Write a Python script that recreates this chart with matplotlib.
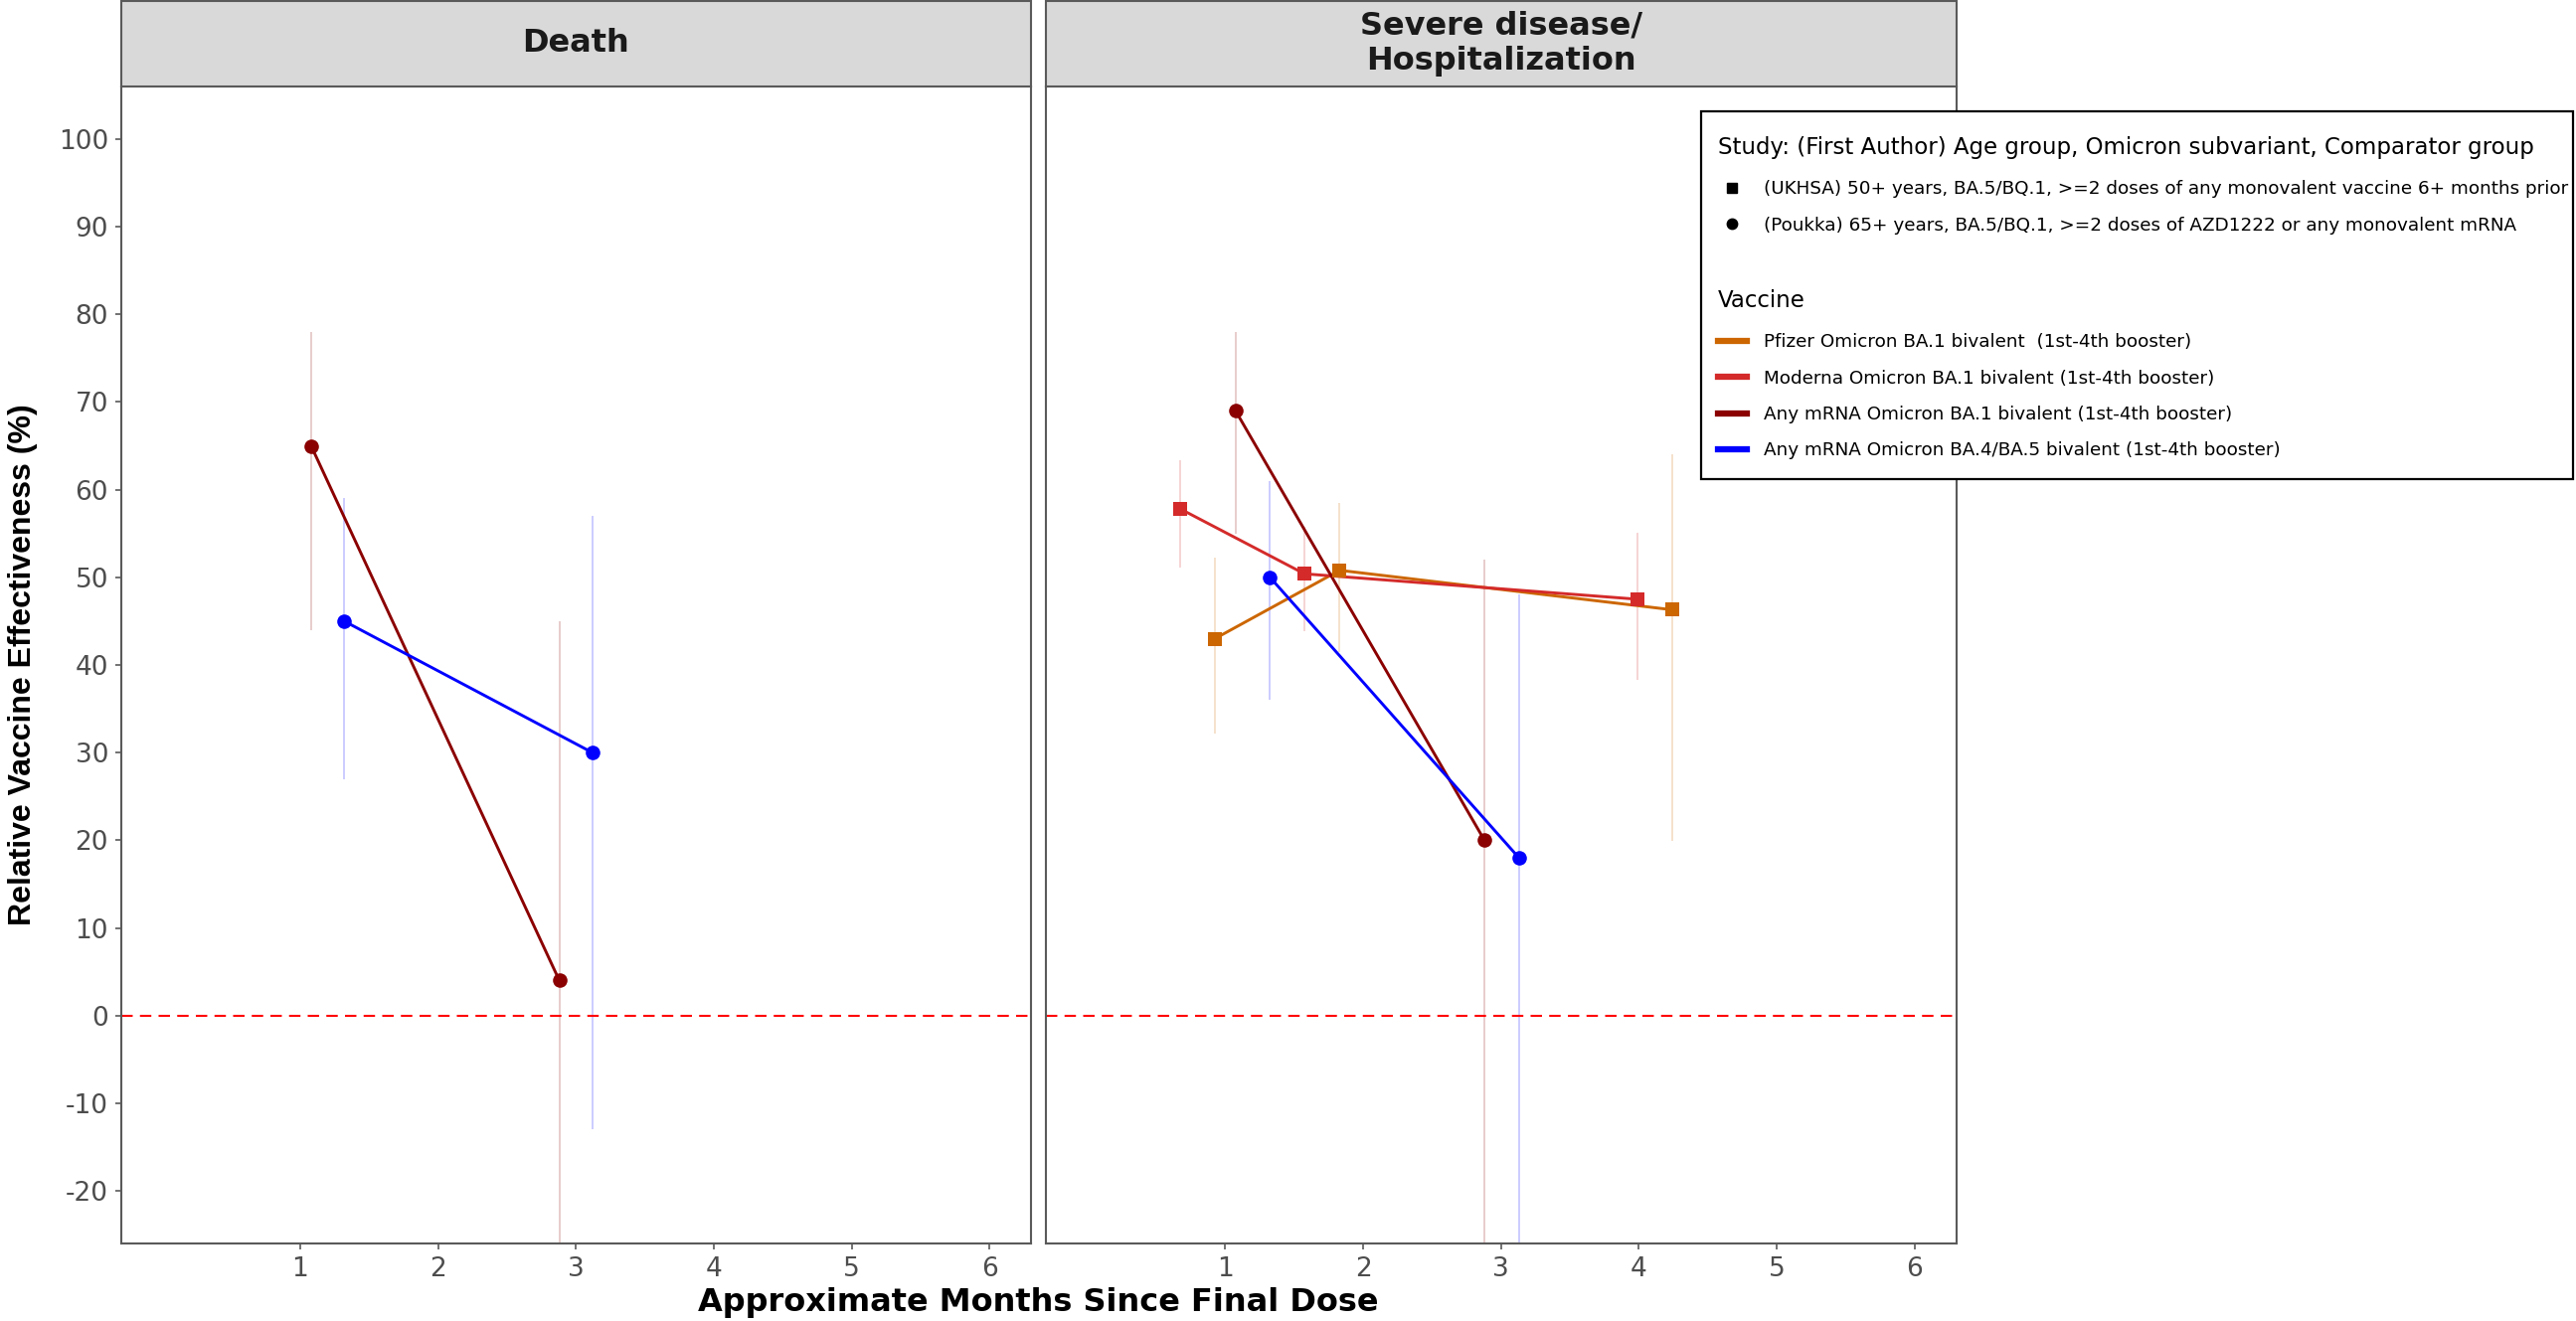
import matplotlib
matplotlib.use("Agg")
import matplotlib.pyplot as plt
from matplotlib.patches import Rectangle
from matplotlib.lines import Line2D

# ---------------- data ----------------
months_ticks = [1, 2, 3, 4, 5, 6]
y_ticks = [-20, -10, 0, 10, 20, 30, 40, 50, 60, 70, 80, 90, 100]
panel_titles = ["Death", "Severe disease/\nHospitalization"]

# Death panel (Poukka study, circles)
death_ba1_x = [1.08, 2.88]
death_ba1_y = [65, 4]
death_ba1_lo = [44, -35]
death_ba1_hi = [78, 45]

death_ba45_x = [1.32, 3.12]
death_ba45_y = [45, 30]
death_ba45_lo = [27, -13]
death_ba45_hi = [59, 57]

# Severe disease / hospitalization panel
sev_pfizer_x = [0.925, 1.83, 4.24]          # UKHSA, squares
sev_pfizer_y = [43, 50.8, 46.3]
sev_pfizer_lo = [32.2, 41.5, 19.9]
sev_pfizer_hi = [52.2, 58.5, 64.0]

sev_moderna_x = [0.675, 1.575, 3.99]        # UKHSA, squares
sev_moderna_y = [57.8, 50.4, 47.5]
sev_moderna_lo = [51.1, 43.9, 38.3]
sev_moderna_hi = [63.4, 55.8, 55.1]

sev_ba1_x = [1.075, 2.88]                   # Poukka, circles
sev_ba1_y = [69, 20]
sev_ba1_lo = [55, -35]
sev_ba1_hi = [78, 52]

sev_ba45_x = [1.325, 3.13]                  # Poukka, circles
sev_ba45_y = [50, 18]
sev_ba45_lo = [36, -35]
sev_ba45_hi = [61, 48]

study_title = "Study: (First Author) Age group, Omicron subvariant, Comparator group"
study_labels = ["(UKHSA) 50+ years, BA.5/BQ.1, >=2 doses of any monovalent vaccine 6+ months prior",
                "(Poukka) 65+ years, BA.5/BQ.1, >=2 doses of AZD1222 or any monovalent mRNA"]
vaccine_title = "Vaccine"
vaccine_labels = ["Pfizer Omicron BA.1 bivalent  (1st-4th booster)",
                  "Moderna Omicron BA.1 bivalent (1st-4th booster)",
                  "Any mRNA Omicron BA.1 bivalent (1st-4th booster)",
                  "Any mRNA Omicron BA.4/BA.5 bivalent (1st-4th booster)"]

# ---------------- styles ----------------
C_PFIZER = "#CC6600"
C_MODERNA = "#D42A2A"
C_BA1 = "#8B0000"
C_BA45 = "#0000FF"
vaccine_colors = [C_PFIZER, C_MODERNA, C_BA1, C_BA45]

plt.rcParams["font.family"] = ["DejaVu Sans"]
plt.rcParams["axes.unicode_minus"] = False

W, H, DPI = 2591, 1329, 100
fig = plt.figure(figsize=(W / DPI, H / DPI), dpi=DPI)


def fx(px):
    return px / W


def fy(py):
    return 1 - py / H


AX_TOP, AX_BOT = 87, 1251
ax_h = (AX_BOT - AX_TOP) / H
ax_l = fig.add_axes([fx(121.5), fy(AX_BOT), (1037 - 121.5) / W, ax_h])
ax_r = fig.add_axes([fx(1052), fy(AX_BOT), (1967.5 - 1052) / W, ax_h])

SPINE = "#5A5A5A"
TICKC = "#4D4D4D"


def draw_series(ax, x, y, lo, hi, color, marker):
    ax.vlines(x, lo, hi, colors=color, alpha=0.2, lw=1.4, zorder=1)
    ax.plot(x, y, color=color, lw=2.1, zorder=2)
    ax.plot(x, y, ls="none", marker=marker, color=color, markersize=10.5,
            markeredgewidth=0, zorder=3)


draw_series(ax_l, death_ba1_x, death_ba1_y, death_ba1_lo, death_ba1_hi, C_BA1, "o")
draw_series(ax_l, death_ba45_x, death_ba45_y, death_ba45_lo, death_ba45_hi, C_BA45, "o")

draw_series(ax_r, sev_pfizer_x, sev_pfizer_y, sev_pfizer_lo, sev_pfizer_hi, C_PFIZER, "s")
draw_series(ax_r, sev_moderna_x, sev_moderna_y, sev_moderna_lo, sev_moderna_hi, C_MODERNA, "s")
draw_series(ax_r, sev_ba1_x, sev_ba1_y, sev_ba1_lo, sev_ba1_hi, C_BA1, "o")
draw_series(ax_r, sev_ba45_x, sev_ba45_y, sev_ba45_lo, sev_ba45_hi, C_BA45, "o")

for i, ax in enumerate([ax_l, ax_r]):
    ax.set_xlim(-0.3, 6.3)
    ax.set_ylim(-26, 106)
    ax.axhline(0, color="#FF0000", lw=1.5, dashes=(5.5, 3.5), zorder=1.5)
    ax.set_xticks(months_ticks)
    ax.set_yticks(y_ticks)
    for s in ax.spines.values():
        s.set_color(SPINE)
        s.set_linewidth(1.5)
    ax.tick_params(axis="both", length=4, width=1.2, color=SPINE,
                   labelsize=19, labelcolor=TICKC, pad=5)
    # facet strip
    strip_h = 86 / (AX_BOT - AX_TOP)
    ax.add_patch(Rectangle((0, 1), 1, strip_h, transform=ax.transAxes,
                           clip_on=False, facecolor="#D9D9D9",
                           edgecolor=SPINE, lw=1.5, zorder=5))
    ax.text(0.5, 1 + strip_h / 2, panel_titles[i], transform=ax.transAxes,
            ha="center", va="center", fontsize=23, fontweight="bold",
            color="#1A1A1A", linespacing=1.2, zorder=6)

ax_r.tick_params(axis="y", left=False, labelleft=False)

# axis titles
fig.text(fx(1044.5), fy(1311), "Approximate Months Since Final Dose",
         ha="center", va="center", fontsize=23, fontweight="bold")
fig.text(fx(23), fy(669), "Relative Vaccine Effectiveness (%)",
         ha="center", va="center", rotation=90, fontsize=23,
         fontweight="bold", family=["Liberation Sans", "DejaVu Sans"])

# legend box
fig.add_artist(Rectangle((fx(1711), fy(482)), (2588 - 1711) / W, (482 - 112) / H,
                         transform=fig.transFigure, facecolor="white",
                         edgecolor="black", lw=1.6, zorder=4))

LEG_KW = dict(loc="upper left", frameon=False, fontsize=13.2, title_fontsize=16.5,
              alignment="left", handlelength=1.58, handletextpad=0.93,
              labelspacing=1.0, borderpad=0, borderaxespad=0)

study_handles = [Line2D([], [], ls="none", marker="s", color="black", markersize=7.5),
                 Line2D([], [], ls="none", marker="o", color="black", markersize=7.5)]
leg1 = fig.legend(handles=study_handles, labels=study_labels, title=study_title,
                  bbox_to_anchor=(fx(1728), fy(137)), **LEG_KW)
leg1.set_zorder(6)

vac_handles = [Line2D([], [], color=c, lw=4.5) for c in vaccine_colors]
leg2 = fig.legend(handles=vac_handles, labels=vaccine_labels, title=vaccine_title,
                  bbox_to_anchor=(fx(1728), fy(291)), **LEG_KW)
leg2.set_zorder(6)

# slightly larger gap between legend titles and their first entries
for lg in (leg1, leg2):
    try:
        lg._legend_box.sep = 1.0 * 13.2 + 2.2
    except Exception:
        pass

fig.savefig("out.png", dpi=DPI, facecolor="white")
